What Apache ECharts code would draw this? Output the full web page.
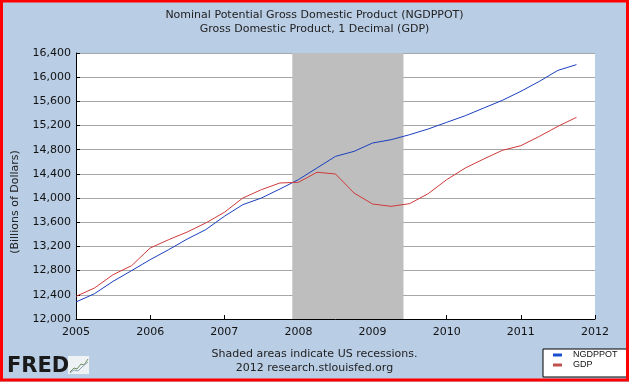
<!DOCTYPE html>
<html>
<head>
<meta charset="utf-8">
<script src="https://cdn.jsdelivr.net/npm/echarts@6/dist/echarts.min.js"></script>
<style>
html,body{margin:0;padding:0;background:#B9CDE5;}
#c{width:629px;height:382px;}
</style>
</head>
<body>
<div id="c"></div>
<script>
// Quarterly dates (decimal years)
var quarters = [2005.00,2005.25,2005.50,2005.75,2006.00,2006.25,2006.50,2006.75,
  2007.00,2007.25,2007.50,2007.75,2008.00,2008.25,2008.50,2008.75,
  2009.00,2009.25,2009.50,2009.75,2010.00,2010.25,2010.50,2010.75,
  2011.00,2011.25,2011.50,2011.75];
// Nominal Potential GDP (billions of dollars)
var ngdppot = [12281,12419,12623,12800,12981,13147,13323,13478,
  13698,13891,14001,14150,14305,14498,14690,14773,
  14911,14966,15049,15143,15253,15363,15490,15617,
  15766,15931,16113,16207];
// GDP (billions of dollars)
var gdp = [12375,12513,12733,12882,13174,13312,13439,13588,
  13764,14001,14139,14250,14261,14427,14399,14084,
  13902,13864,13908,14073,14305,14498,14647,14790,
  14867,15021,15187,15336];
// Recession period (decimal years)
var recession = [2007.917, 2009.417];
var yTicks = {min:12000, max:16400, step:400};
var xTicks = {min:2005, max:2012, step:1};

function pairs(xs, ys){ return xs.map(function(x,i){ return [x, ys[i]]; }); }

var font = 'DejaVu Sans';
var chart = echarts.init(document.getElementById('c'), null, {renderer:'canvas'});
chart.setOption({
  backgroundColor:'#B9CDE5',
  animation:false,
  title:{
    text:'Nominal Potential Gross Domestic Product (NGDPPOT)\nGross Domestic Product, 1 Decimal (GDP)',
    left:'center', top:3,
    textStyle:{fontFamily:font, fontSize:11, fontWeight:'normal', color:'#222', lineHeight:14}
  },
  grid:{left:76, top:53, width:519, height:266, show:true, backgroundColor:'#fff', borderWidth:0},
  xAxis:{
    type:'value', min:xTicks.min, max:xTicks.max, interval:xTicks.step,
    axisLine:{show:true, lineStyle:{color:'#000', width:1}},
    axisTick:{show:true, inside:true, length:4, lineStyle:{color:'#000'}},
    splitLine:{show:false},
    axisLabel:{formatter:function(v){return String(v);}, fontFamily:font, fontSize:11, color:'#111', margin:8}
  },
  yAxis:{
    type:'value', min:yTicks.min, max:yTicks.max, interval:yTicks.step,
    axisLine:{show:true, lineStyle:{color:'#000', width:1}},
    axisTick:{show:true, inside:true, length:4, lineStyle:{color:'#000'}},
    splitLine:{show:true, lineStyle:{color:'#A6A6A6', width:1}},
    axisLabel:{formatter:function(v){return v.toLocaleString('en-US');}, fontFamily:font, fontSize:11, color:'#111', margin:5}
  },
  legend:{
    orient:'vertical', left:543, top:349,
    data:['NGDPPOT','GDP'],
    backgroundColor:'#fff', borderColor:'#000', borderWidth:1,
    padding:[1,10,7,10], itemGap:0, itemWidth:9, itemHeight:3, icon:'rect',
    textStyle:{fontFamily:'Liberation Sans', fontSize:9, color:'#111', lineHeight:10, padding:[0,0,0,6]}
  },
  graphic:[
    {type:'rect', z:100, shape:{x:1.5, y:1, width:626, height:379}, style:{fill:null, stroke:'#FF0000', lineWidth:3}},
    {type:'text', left:'center', top:347, z:10, style:{text:'Shaded areas indicate US recessions.\n2012 research.stlouisfed.org', font:'11px "DejaVu Sans"', fill:'#222', textAlign:'center', lineHeight:14}},
    {type:'text', z:10, x:15, y:202, rotation:Math.PI/2, style:{text:'(Billions of Dollars)', font:'11px "DejaVu Sans"', fill:'#222', textAlign:'center', textVerticalAlign:'middle'}},
    {type:'text', z:10, x:7, y:356, style:{text:'FRED', font:'bold 21px "DejaVu Sans"', fill:'#1a1a1a'}},
    {type:'rect', z:10, shape:{x:68, y:356, width:21, height:18}, style:{fill:'#EEF2F4', stroke:null}},
    {type:'polyline', z:11, shape:{points:[[70,372],[74,368],[77,369],[81,364],[84,365],[88,359]]}, style:{stroke:'#6a8f5a', lineWidth:1, fill:null}},
    {type:'polyline', z:11, shape:{points:[[70,373],[74,370],[78,371],[82,367],[88,362]]}, style:{stroke:'#8aa0b8', lineWidth:1, fill:null}}
  ],
  series:[
    {name:'recession', type:'line', data:[], z:1, silent:true,
     markArea:{silent:true, itemStyle:{color:'#BEBEBE'}, data:[[{xAxis:recession[0]},{xAxis:recession[1]}]]}},
    {name:'NGDPPOT', type:'line', z:3, data:pairs(quarters, ngdppot), showSymbol:false, symbol:'none',
     lineStyle:{color:'#1A3FBF', width:1}, itemStyle:{color:'#1A4FD0'}},
    {name:'GDP', type:'line', z:3, data:pairs(quarters, gdp), showSymbol:false, symbol:'none',
     lineStyle:{color:'#D03A3A', width:1}, itemStyle:{color:'#C0504D'}}
  ]
});
</script>
</body>
</html>
